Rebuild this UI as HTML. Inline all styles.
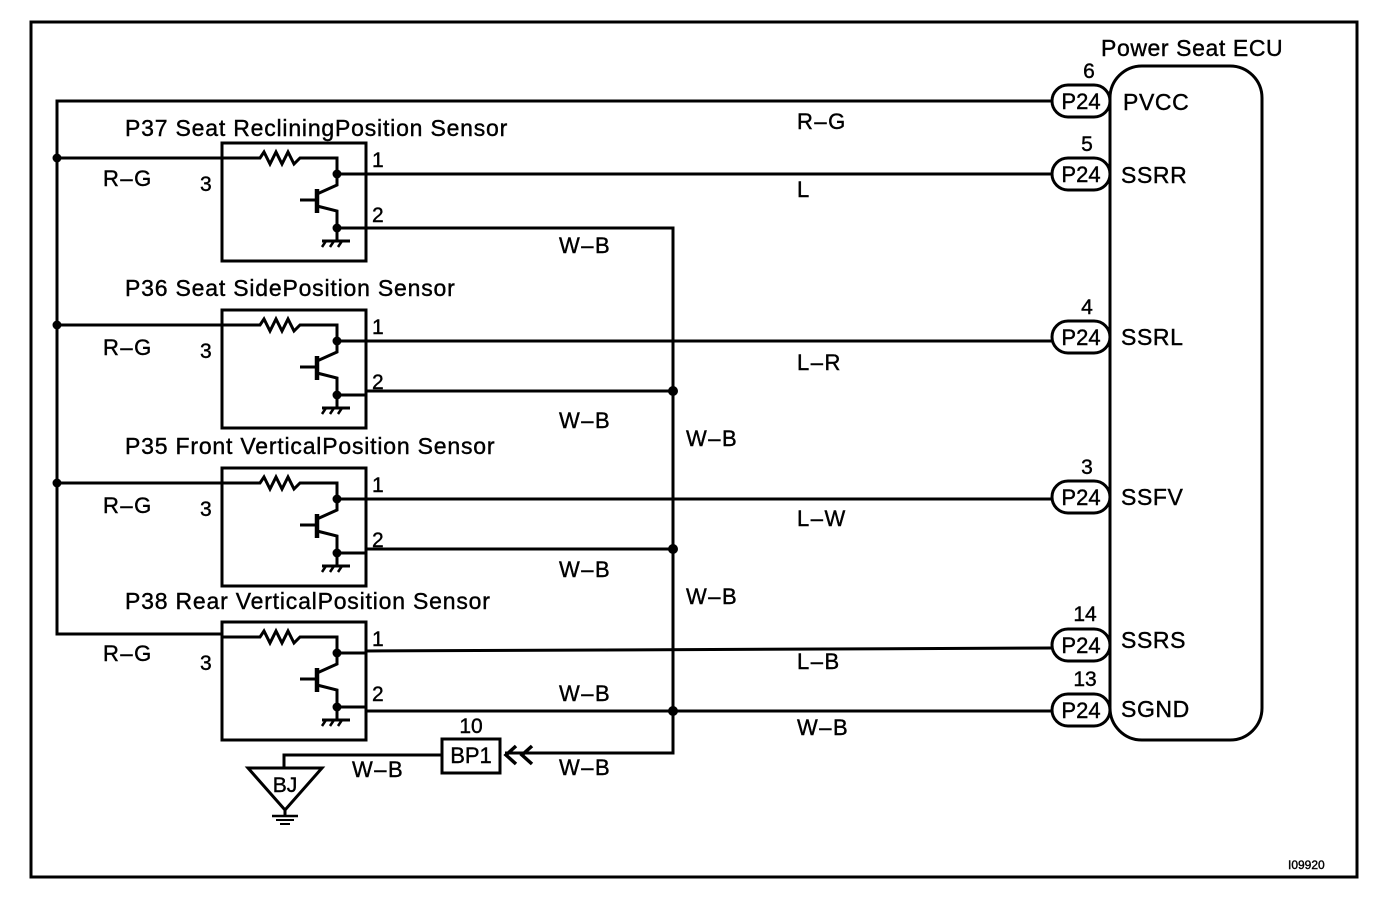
<!DOCTYPE html>
<html><head><meta charset="utf-8"><style>
html,body{margin:0;padding:0;background:#fff;}
svg{display:block;}
text{font-family:"Liberation Sans",Arial,sans-serif;fill:#000;stroke:#000;stroke-width:0.4;}
</style></head><body>
<svg width="1376" height="900" viewBox="0 0 1376 900" xmlns="http://www.w3.org/2000/svg">
<defs>
<g id="sens">
  <rect x="0" y="0" width="144" height="118" fill="none" stroke="#000" stroke-width="3"/>
  <polyline points="0,15 38,15 42,9 48,21 54,9 60,21 66,9 72,21 78,15 115,15 115,31" fill="none" stroke="#000" stroke-width="3"/>
  <line x1="115" y1="31" x2="144" y2="31" stroke="#000" stroke-width="3"/>
  <circle cx="115" cy="31" r="4.5" fill="#000"/>
  <line x1="78" y1="57" x2="94" y2="57" stroke="#000" stroke-width="3"/>
  <line x1="95" y1="46" x2="95" y2="70" stroke="#000" stroke-width="4.5"/>
  <polyline points="95,51 115,42 115,31" fill="none" stroke="#000" stroke-width="3"/>
  <polyline points="95,63 115,68 115,98" fill="none" stroke="#000" stroke-width="3"/>
  <line x1="115" y1="85" x2="144" y2="85" stroke="#000" stroke-width="3"/>
  <circle cx="115" cy="85" r="4.5" fill="#000"/>
  <line x1="100" y1="98" x2="128" y2="98" stroke="#000" stroke-width="3"/>
  <line x1="104" y1="98" x2="100" y2="104" stroke="#000" stroke-width="2.5"/>
  <line x1="112" y1="98" x2="108" y2="104" stroke="#000" stroke-width="2.5"/>
  <line x1="120" y1="98" x2="116" y2="104" stroke="#000" stroke-width="2.5"/>
  <text x="150" y="24" font-size="21">1</text>
  <text x="150" y="79" font-size="21">2</text>
  <text x="-22" y="48" font-size="21">3</text>
</g>
<g id="pill">
  <rect x="0" y="-16" width="58" height="32" rx="16" fill="#fff" stroke="#000" stroke-width="3"/>
  <text x="29" y="8" font-size="22" text-anchor="middle">P24</text>
</g>
</defs>

<rect x="31" y="22" width="1326" height="855" fill="none" stroke="#000" stroke-width="3"/>

<rect x="1110" y="66" width="152" height="674" rx="32" fill="none" stroke="#000" stroke-width="3"/>
<text x="1101" y="56" font-size="23" letter-spacing="0.6">Power Seat ECU</text>

<polyline points="1052,101 57,101 57,634 222,634" fill="none" stroke="#000" stroke-width="3"/>
<line x1="57" y1="158" x2="222" y2="158" stroke="#000" stroke-width="3"/>
<line x1="57" y1="325" x2="222" y2="325" stroke="#000" stroke-width="3"/>
<line x1="57" y1="483" x2="222" y2="483" stroke="#000" stroke-width="3"/>
<circle cx="57" cy="158" r="4.5" fill="#000"/>
<circle cx="57" cy="325" r="4.5" fill="#000"/>
<circle cx="57" cy="483" r="4.5" fill="#000"/>

<use href="#sens" x="222" y="143"/>
<use href="#sens" x="222" y="310"/>
<use href="#sens" x="222" y="468"/>
<use href="#sens" x="222" y="622"/>

<g font-size="23" letter-spacing="0.8">
<text x="125" y="136">P37 Seat RecliningPosition Sensor</text>
<text x="125" y="296">P36 Seat SidePosition Sensor</text>
<text x="125" y="454">P35 Front VerticalPosition Sensor</text>
<text x="125" y="609">P38 Rear VerticalPosition Sensor</text>
</g>

<line x1="366" y1="174" x2="1052" y2="174" stroke="#000" stroke-width="3"/>
<line x1="366" y1="341" x2="1052" y2="341" stroke="#000" stroke-width="3"/>
<line x1="366" y1="499" x2="1052" y2="499" stroke="#000" stroke-width="3"/>
<line x1="366" y1="651" x2="1052" y2="648" stroke="#000" stroke-width="3"/>
<line x1="366" y1="711" x2="1052" y2="711" stroke="#000" stroke-width="3"/>

<polyline points="366,228 673,228 673,753 505,753" fill="none" stroke="#000" stroke-width="3"/>
<line x1="366" y1="391" x2="673" y2="391" stroke="#000" stroke-width="3"/>
<line x1="366" y1="549" x2="673" y2="549" stroke="#000" stroke-width="3"/>
<circle cx="673" cy="391" r="5" fill="#000"/>
<circle cx="673" cy="549" r="5" fill="#000"/>
<circle cx="673" cy="711" r="5" fill="#000"/>
<polyline points="516,746 506,755 516,764" fill="none" stroke="#000" stroke-width="3.5"/>
<polyline points="532,746 522,755 532,764" fill="none" stroke="#000" stroke-width="3.5"/>

<rect x="442" y="739" width="58" height="34" fill="#fff" stroke="#000" stroke-width="3"/>
<text x="471" y="763" font-size="22" text-anchor="middle">BP1</text>
<text x="471" y="733" font-size="21" text-anchor="middle">10</text>

<polyline points="442,755 284,755 284,768" fill="none" stroke="#000" stroke-width="3"/>
<polygon points="248,768 322,768 285,810" fill="none" stroke="#000" stroke-width="3"/>
<text x="285" y="792" font-size="21" text-anchor="middle">BJ</text>
<line x1="285" y1="810" x2="285" y2="816" stroke="#000" stroke-width="3"/>
<line x1="272" y1="816" x2="298" y2="816" stroke="#000" stroke-width="2.5"/>
<line x1="276" y1="820" x2="294" y2="820" stroke="#000" stroke-width="2"/>
<line x1="280" y1="824" x2="290" y2="824" stroke="#000" stroke-width="2"/>

<use href="#pill" x="1052" y="101"/>
<use href="#pill" x="1052" y="174"/>
<use href="#pill" x="1052" y="337"/>
<use href="#pill" x="1052" y="497"/>
<use href="#pill" x="1052" y="645"/>
<use href="#pill" x="1052" y="710"/>
<g font-size="21" text-anchor="middle">
<text x="1089" y="78">6</text>
<text x="1087" y="151">5</text>
<text x="1087" y="314">4</text>
<text x="1087" y="474">3</text>
<text x="1085" y="621">14</text>
<text x="1085" y="686">13</text>
</g>
<g font-size="23" letter-spacing="0.6">
<text x="1123" y="110">PVCC</text>
<text x="1121" y="183">SSRR</text>
<text x="1121" y="345">SSRL</text>
<text x="1121" y="505">SSFV</text>
<text x="1121" y="648">SSRS</text>
<text x="1121" y="717">SGND</text>
</g>

<g font-size="22" letter-spacing="1.5">
<text x="797" y="129">R–G</text>
<text x="797" y="197">L</text>
<text x="797" y="370">L–R</text>
<text x="797" y="526">L–W</text>
<text x="797" y="669">L–B</text>
<text x="797" y="735">W–B</text>
<text x="103" y="186">R–G</text>
<text x="103" y="355">R–G</text>
<text x="103" y="513">R–G</text>
<text x="103" y="661">R–G</text>
<text x="559" y="253">W–B</text>
<text x="559" y="428">W–B</text>
<text x="559" y="577">W–B</text>
<text x="559" y="701">W–B</text>
<text x="559" y="775">W–B</text>
<text x="352" y="777">W–B</text>
<text x="686" y="446">W–B</text>
<text x="686" y="604">W–B</text>
</g>
<text x="1288" y="869" font-size="12" stroke-width="0.6">I09920</text>
</svg>
</body></html>
